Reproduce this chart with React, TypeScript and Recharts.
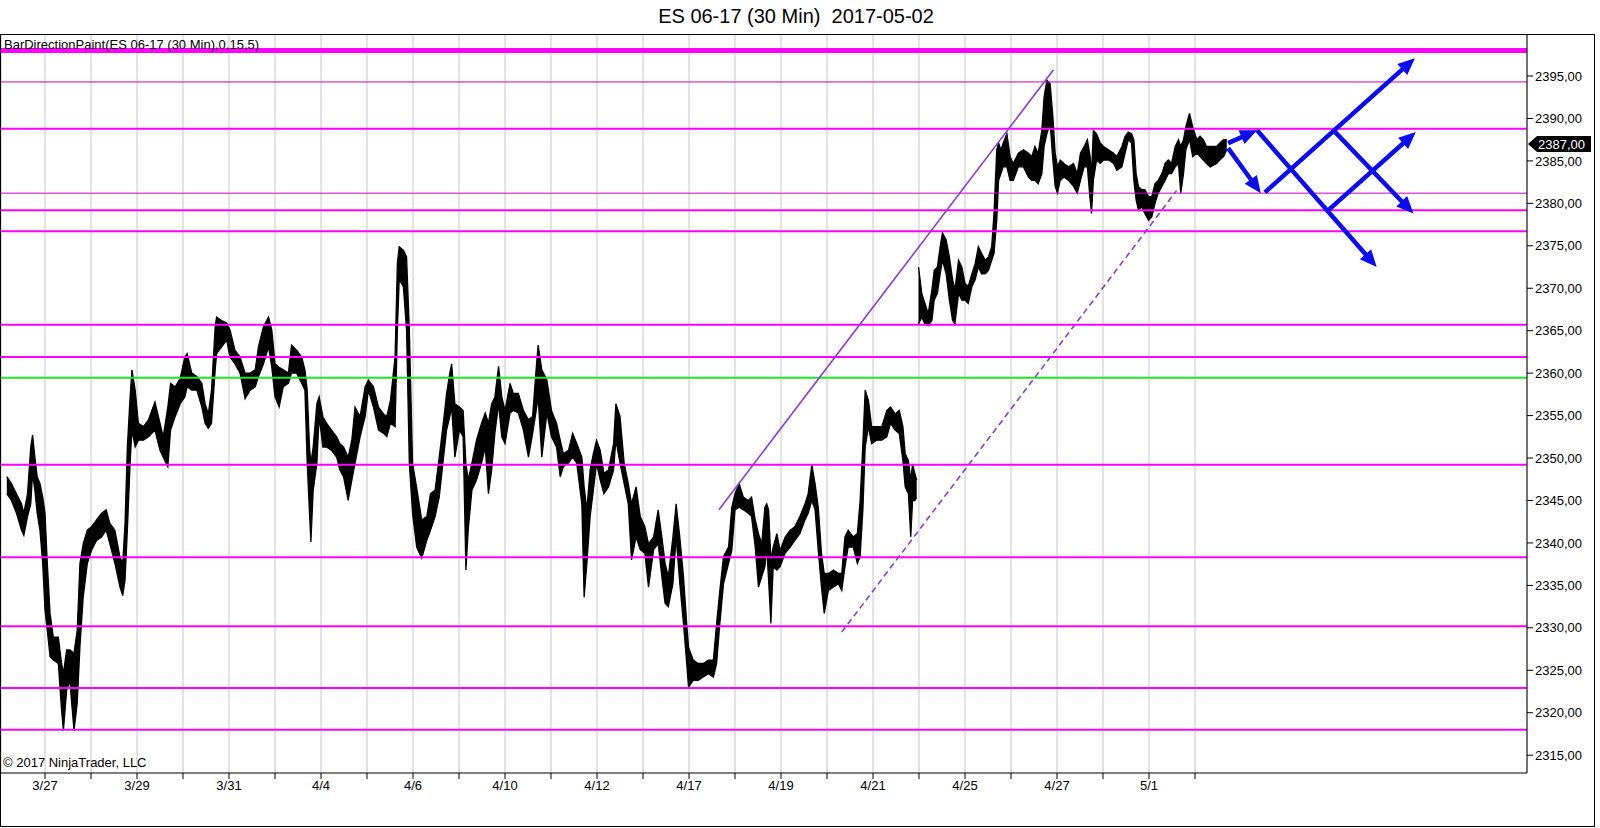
import React from 'react';
import {
  ComposedChart,
  Area,
  XAxis,
  YAxis,
  CartesianGrid,
  ReferenceLine,
} from 'recharts';

// x is measured in trading days, 0 = first bar of 3/27
const DAY_TICKS = Array.from({ length: 26 }, (_, i) => i);
const DAY_LABELS = [
  '3/27', '', '3/29', '', '3/31', '', '4/4', '', '4/6', '', '4/10', '', '4/12', '',
  '4/17', '', '4/19', '', '4/21', '', '4/25', '', '4/27', '', '5/1', '',
];
const PRICE_TICKS = [2315, 2320, 2325, 2330, 2335, 2340, 2345, 2350, 2355, 2360, 2365, 2370, 2375, 2380, 2385, 2390, 2395];

// 3/26 evening .. 4/21 close
const SESSION_A_T = [
  -0.83, -0.73, -0.62, -0.51, -0.46, -0.38, -0.31, -0.27, -0.22, -0.17, -0.11, -0.05,
  0.0, 0.05, 0.11, 0.18, 0.29, 0.36, 0.4, 0.47, 0.54, 0.63, 0.7, 0.76, 0.83, 0.92,
  1.01, 1.12, 1.23, 1.33, 1.41, 1.52, 1.63, 1.69, 1.74, 1.79, 1.85, 1.89, 1.96,
  2.03, 2.14, 2.25, 2.39, 2.5, 2.57, 2.67, 2.73, 2.83, 2.94,
  3.04, 3.09, 3.19, 3.3, 3.41, 3.48, 3.55, 3.62, 3.7, 3.73, 3.84, 3.95,
  4.02, 4.13, 4.24, 4.35, 4.46, 4.57, 4.64, 4.75, 4.86, 4.93,
  5.0, 5.09, 5.18, 5.29, 5.36, 5.47, 5.58, 5.65, 5.7, 5.75, 5.78, 5.83, 5.91, 5.96,
  6.04, 6.12, 6.23, 6.34, 6.41, 6.49, 6.59, 6.67, 6.74, 6.85, 6.96,
  7.03, 7.14, 7.25, 7.36, 7.43, 7.51, 7.61, 7.66, 7.7, 7.79, 7.86, 7.92, 7.99,
  8.08, 8.19, 8.3, 8.38, 8.48, 8.57, 8.65, 8.73, 8.8, 8.84, 8.91,
  9.01, 9.09, 9.15, 9.2, 9.28, 9.38, 9.49, 9.57, 9.64, 9.71, 9.78, 9.86, 9.93,
  10.0, 10.11, 10.18, 10.29, 10.4, 10.51, 10.6, 10.67, 10.72, 10.8, 10.91,
  11.01, 11.12, 11.2, 11.27, 11.38, 11.47, 11.56, 11.67, 11.72, 11.78, 11.85, 11.92, 11.99,
  12.07, 12.15, 12.25, 12.36, 12.41, 12.5, 12.59, 12.68, 12.75, 12.85, 12.94,
  13.04, 13.12, 13.23, 13.33, 13.41, 13.48, 13.55, 13.65, 13.72, 13.8, 13.88, 13.95, 13.99,
  14.09, 14.2, 14.31, 14.42, 14.53, 14.6, 14.67, 14.75, 14.86, 14.93,
  15.0, 15.09, 15.18, 15.29, 15.36, 15.44, 15.51, 15.58, 15.65, 15.69, 15.73, 15.78, 15.83, 15.91, 15.98,
  16.09, 16.2, 16.3, 16.41, 16.52, 16.59, 16.67, 16.74, 16.81, 16.88, 16.94,
  17.03, 17.14, 17.25, 17.32, 17.39, 17.46, 17.57, 17.66, 17.72, 17.78, 17.83, 17.9, 17.97,
  18.08, 18.19, 18.3, 18.38, 18.48, 18.57, 18.65, 18.7, 18.77, 18.82, 18.86, 18.91, 18.95,
];
const SESSION_A_HIGH = [
  2347.8, 2347.0, 2345.8, 2344.6, 2343.5, 2345.8, 2351.3, 2352.7, 2350.1, 2347.8, 2347.0, 2345.4,
  2343.5, 2337.6, 2331.7, 2328.9, 2328.9, 2325.8, 2324.6, 2327.4, 2327.4, 2327.0, 2329.7, 2337.6, 2339.9, 2341.5,
  2341.9, 2342.7, 2343.5, 2343.9, 2342.3, 2341.5, 2338.3, 2337.6, 2342.3, 2351.3, 2357.2, 2360.4, 2358.0,
  2354.1, 2353.7, 2354.5, 2356.6, 2354.1, 2352.5, 2356.0, 2358.8, 2358.4, 2359.4,
  2361.9, 2362.3, 2360.0, 2359.6, 2358.8, 2356.4, 2355.2, 2358.0, 2365.5, 2366.6, 2366.2, 2365.9,
  2365.1, 2362.7, 2361.9, 2360.0, 2360.0, 2360.4, 2363.1, 2365.5, 2366.6, 2365.1,
  2361.1, 2360.7, 2360.4, 2360.0, 2363.3, 2362.7, 2361.9, 2360.4, 2358.0, 2351.3, 2349.4, 2351.3, 2356.4, 2357.2,
  2354.9, 2354.1, 2353.3, 2352.5, 2351.7, 2351.3, 2350.1, 2352.1, 2356.0, 2354.9, 2358.4,
  2359.2, 2358.4, 2356.0, 2355.2, 2354.9, 2356.8, 2361.9, 2372.9, 2374.9, 2374.5, 2373.7, 2365.1, 2349.4,
  2346.5, 2342.7, 2343.1, 2345.8, 2346.2, 2350.1, 2353.7, 2357.6, 2360.0, 2361.1, 2356.4,
  2356.0, 2355.6, 2349.4, 2347.4, 2349.4, 2352.1, 2354.1, 2355.3, 2354.1, 2356.4, 2357.2, 2360.8, 2357.2,
  2355.6, 2358.8, 2357.6, 2357.6, 2355.6, 2354.5, 2354.9, 2360.0, 2363.3, 2360.4, 2359.2,
  2355.6, 2354.1, 2352.1, 2350.5, 2350.9, 2352.9, 2351.7, 2350.1, 2346.6, 2343.9, 2348.6, 2350.5, 2352.1,
  2350.9, 2348.2, 2348.6, 2351.7, 2356.4, 2354.9, 2349.4, 2347.0, 2344.6, 2346.6, 2343.1,
  2341.9, 2339.9, 2340.7, 2343.9, 2340.7, 2337.6, 2336.0, 2340.7, 2344.6, 2340.7, 2336.0, 2330.5, 2327.7,
  2326.2, 2325.8, 2325.8, 2326.2, 2326.2, 2330.5, 2334.4, 2338.4, 2339.5, 2344.2,
  2345.8, 2347.0, 2345.4, 2345.0, 2345.4, 2342.7, 2341.1, 2339.9, 2344.2, 2344.6, 2343.9, 2338.0, 2339.5, 2341.1, 2339.1,
  2340.7, 2341.5, 2341.9, 2343.1, 2344.6, 2345.8, 2349.2, 2347.0, 2344.2, 2338.8, 2336.4,
  2336.4, 2336.8, 2336.4, 2336.4, 2340.7, 2341.5, 2340.7, 2341.1, 2345.0, 2351.7, 2358.0, 2356.8, 2353.7,
  2353.7, 2353.7, 2355.6, 2356.0, 2355.2, 2355.6, 2353.7, 2350.5, 2349.7, 2347.4, 2349.3, 2348.2, 2347.4,
];
const SESSION_A_LOW = [
  2345.8, 2345.0, 2343.5, 2341.5, 2340.9, 2343.1, 2344.6, 2348.2, 2346.2, 2343.5, 2341.5, 2337.6,
  2332.1, 2329.7, 2326.6, 2326.2, 2325.8, 2320.3, 2317.9, 2322.6, 2323.8, 2317.9, 2321.1, 2327.8, 2333.6, 2337.6,
  2339.1, 2340.3, 2340.7, 2341.5, 2339.9, 2337.6, 2334.8, 2333.8, 2335.6, 2341.5, 2349.4, 2353.3, 2351.3,
  2352.1, 2352.1, 2352.5, 2353.3, 2350.9, 2350.1, 2349.0, 2353.3, 2354.9, 2356.4,
  2357.2, 2358.4, 2358.0, 2358.0, 2356.0, 2354.1, 2353.5, 2354.1, 2360.4, 2362.3, 2363.1, 2363.9,
  2361.9, 2361.1, 2360.0, 2357.0, 2358.0, 2358.4, 2359.6, 2361.1, 2363.1, 2360.7,
  2357.2, 2356.0, 2358.4, 2358.8, 2360.0, 2360.0, 2358.8, 2358.0, 2349.4, 2343.5, 2340.1, 2346.2, 2349.4, 2354.9,
  2351.3, 2351.3, 2350.9, 2350.1, 2348.6, 2347.8, 2345.0, 2347.4, 2349.4, 2352.5, 2354.9,
  2358.0, 2356.0, 2353.3, 2352.9, 2352.5, 2354.1, 2353.7, 2365.1, 2371.0, 2370.2, 2365.1, 2349.4, 2343.5,
  2339.5, 2338.2, 2340.3, 2341.5, 2343.1, 2345.4, 2349.4, 2353.3, 2354.9, 2356.0, 2350.1,
  2353.3, 2352.5, 2336.8, 2341.5, 2346.2, 2347.4, 2349.4, 2351.3, 2345.8, 2348.6, 2352.9, 2356.4, 2352.5,
  2351.7, 2355.3, 2355.6, 2355.3, 2353.3, 2350.1, 2352.9, 2355.3, 2357.2, 2350.1, 2355.3,
  2352.5, 2351.3, 2347.8, 2349.0, 2349.4, 2350.1, 2349.4, 2344.6, 2333.6, 2337.6, 2343.1, 2346.2, 2349.4,
  2347.4, 2345.8, 2346.6, 2348.6, 2352.1, 2349.4, 2347.0, 2344.6, 2338.0, 2340.7, 2339.2,
  2338.8, 2334.8, 2339.2, 2339.9, 2336.0, 2332.9, 2332.5, 2335.2, 2340.7, 2335.2, 2330.5, 2325.8, 2323.0,
  2323.8, 2323.8, 2324.2, 2324.6, 2324.2, 2325.8, 2330.5, 2335.2, 2337.6, 2339.1,
  2343.9, 2344.2, 2343.9, 2343.5, 2343.1, 2339.5, 2334.8, 2336.0, 2337.2, 2339.5, 2335.6, 2330.5, 2337.2, 2336.8, 2337.2,
  2338.8, 2339.5, 2340.3, 2341.1, 2342.7, 2343.5, 2345.0, 2343.9, 2339.1, 2334.8, 2331.7,
  2334.4, 2334.8, 2335.2, 2334.4, 2337.2, 2339.5, 2339.5, 2337.6, 2338.4, 2343.9, 2351.3, 2353.7, 2351.7,
  2352.1, 2352.1, 2352.5, 2354.1, 2353.3, 2352.9, 2349.7, 2346.6, 2345.8, 2340.7, 2345.0, 2345.0, 2345.4,
];

// 4/23 evening gap up .. 5/2
const SESSION_B_T = [
  18.99, 19.06, 19.13, 19.2, 19.28, 19.33, 19.4, 19.46, 19.51, 19.59, 19.66, 19.73, 19.78, 19.86, 19.93,
  20.0, 20.07, 20.15, 20.22, 20.29, 20.36, 20.44, 20.51, 20.58, 20.63, 20.69, 20.73, 20.78, 20.83, 20.91, 20.98,
  21.05, 21.16, 21.27, 21.38, 21.45, 21.52, 21.59, 21.67, 21.72, 21.78, 21.85, 21.91, 21.96,
  22.01, 22.07, 22.15, 22.25, 22.36, 22.44, 22.51, 22.59, 22.66, 22.72, 22.75, 22.79, 22.86, 22.94,
  23.01, 23.12, 23.23, 23.3, 23.41, 23.48, 23.55, 23.62, 23.67, 23.72, 23.77, 23.84, 23.91, 23.99,
  24.06, 24.13, 24.2, 24.28, 24.35, 24.42, 24.49, 24.57, 24.64, 24.69, 24.75, 24.8, 24.88, 24.95,
  25.04, 25.11, 25.18, 25.25, 25.33, 25.4, 25.47, 25.54, 25.62, 25.69,
];
const SESSION_B_HIGH = [
  2372.5, 2369.4, 2368.2, 2367.0, 2369.8, 2372.1, 2372.5, 2374.9, 2376.5, 2375.7, 2373.7, 2371.0, 2369.8, 2373.3, 2372.5,
  2370.6, 2370.2, 2371.7, 2372.9, 2374.9, 2374.1, 2373.3, 2373.7, 2374.9, 2378.8, 2386.3, 2387.1, 2386.3, 2387.1, 2388.2, 2385.5,
  2384.7, 2385.9, 2386.3, 2385.9, 2385.5, 2386.7, 2385.9, 2388.6, 2392.6, 2394.5, 2394.1, 2390.2, 2385.9,
  2384.3, 2385.1, 2384.7, 2384.3, 2384.7, 2383.5, 2385.9, 2386.7, 2387.5, 2385.5, 2383.5, 2388.6, 2388.2, 2387.1,
  2386.7, 2386.3, 2385.9, 2385.5, 2386.7, 2387.9, 2388.4, 2388.2, 2387.5, 2383.5, 2382.0, 2381.6, 2381.6, 2380.8,
  2380.8, 2382.3, 2382.7, 2383.5, 2384.7, 2385.1, 2384.7, 2386.7, 2387.5, 2386.7, 2387.5, 2389.0, 2390.6, 2389.0,
  2387.5, 2387.9, 2387.5, 2386.7, 2386.7, 2386.7, 2386.7, 2387.1, 2387.5, 2387.5,
];
const SESSION_B_LOW = [
  2365.8, 2366.6, 2365.8, 2365.6, 2366.2, 2368.6, 2369.4, 2371.7, 2373.3, 2371.7, 2368.6, 2366.2, 2365.8, 2369.4, 2368.6,
  2368.6, 2368.2, 2370.2, 2371.0, 2372.5, 2371.7, 2371.7, 2372.1, 2373.3, 2374.1, 2378.0, 2382.7, 2383.5, 2384.3, 2384.3, 2382.7,
  2382.7, 2384.3, 2384.3, 2383.1, 2382.7, 2382.7, 2382.3, 2383.5, 2386.7, 2388.2, 2389.4, 2385.1, 2382.0,
  2381.2, 2382.7, 2383.1, 2382.7, 2382.0, 2381.2, 2382.7, 2384.3, 2384.3, 2380.4, 2378.8, 2382.7, 2385.1, 2384.7,
  2385.1, 2385.1, 2384.7, 2383.9, 2384.3, 2385.9, 2387.5, 2387.1, 2382.7, 2380.4, 2379.2, 2379.6, 2378.8, 2378.0,
  2378.4, 2380.0, 2381.2, 2382.0, 2382.7, 2383.5, 2383.5, 2384.3, 2384.7, 2381.2, 2383.5, 2386.3, 2387.5, 2385.5,
  2385.9, 2385.5, 2385.1, 2384.7, 2384.3, 2384.5, 2384.7, 2385.1, 2385.5, 2386.3,
];

const LAST_PRICE = 2387;

// horizontal levels
const HEAVY_LEVELS = [2398];
const THIN_LEVELS = [2394.3, 2381.2];
const MAIN_LEVELS = [2388.8, 2379.2, 2376.7, 2365.7, 2361.9, 2349.2, 2338.3, 2330.2, 2322.9, 2318.0];
const GREEN_LEVELS = [2359.45];

// trend lines [t, price]
const TREND_SOLID = [[14.65, 2343.9], [21.92, 2395.7]];
const TREND_DASHED = [[17.32, 2329.5], [24.6, 2381.5]];

// projection arrows [t, price]
const ARROW_FROM = [
  [25.72, 2387.1], [25.72, 2386.5], [26.35, 2388.6], [26.52, 2381.3], [28.01, 2388.6], [27.9, 2379.2],
];
const ARROW_TO = [
  [26.35, 2388.6], [26.43, 2381.2], [28.95, 2372.5], [29.78, 2397.1], [29.75, 2378.8], [29.8, 2388.4],
];

const X_MIN = -0.9565;
const X_MAX = 32.217;
const Y_MIN = 2312.9;
const Y_MAX = 2399.83;

const FONT = '"Liberation Sans", Arial, sans-serif';

const sessionA = SESSION_A_T.map((t, i) => ({ t, range: [SESSION_A_LOW[i], SESSION_A_HIGH[i]] }));
const sessionB = SESSION_B_T.map((t, i) => ({ t, range: [SESSION_B_LOW[i], SESSION_B_HIGH[i]] }));

const ArrowShape = (props: any) => {
  const { x1, y1, x2, y2 } = props;
  const dx = x2 - x1;
  const dy = y2 - y1;
  const len = Math.hypot(dx, dy) || 1;
  const ux = dx / len;
  const uy = dy / len;
  const hl = 17;
  const hw = 7.5;
  const bx = x2 - ux * hl;
  const by = y2 - uy * hl;
  return (
    <g>
      <line x1={x1} y1={y1} x2={bx + ux * 2} y2={by + uy * 2} stroke="#0a0af5" strokeWidth={4.5} />
      <polygon
        points={`${x2},${y2} ${bx - uy * hw},${by + ux * hw} ${bx + uy * hw},${by - ux * hw}`}
        fill="#0a0af5"
      />
    </g>
  );
};

// black last-price tag sitting on the price axis
const PriceMarker = (props: any) => {
  const { x1, x2, y1 } = props;
  const x = Math.max(x1, x2) + 1;
  const y = y1;
  return (
    <g>
      <polygon
        points={`${x},${y} ${x + 9},${y - 8} ${x + 63},${y - 8} ${x + 63},${y + 8} ${x + 9},${y + 8}`}
        fill="#000"
      />
      <text x={x + 10} y={y} dy="0.36em" fill="#fff" fontSize={13} fontFamily={FONT}>
        {LAST_PRICE.toFixed(2).replace('.', ',')}
      </text>
    </g>
  );
};

export default function App() {
  return (
    <div
      style={{
        position: 'absolute',
        left: 0,
        top: 0,
        width: 1600,
        height: 828,
        background: '#fff',
        fontFamily: FONT,
        overflow: 'hidden',
      }}
    >
      <div
        style={{
          position: 'absolute',
          left: 0,
          top: 4,
          width: 1592,
          textAlign: 'center',
          fontSize: 20,
          lineHeight: '24px',
          whiteSpace: 'pre',
          color: '#000',
        }}
      >
        {'ES 06-17 (30 Min)  2017-05-02'}
      </div>
      <ComposedChart
        width={1600}
        height={828}
        margin={{ top: 35, right: 0, bottom: 15, left: 1 }}
        style={{ position: 'absolute', left: 0, top: 0 }}
      >
        <CartesianGrid horizontal={false} stroke="#c6c6c6" strokeWidth={1} />
        <XAxis
          type="number"
          dataKey="t"
          domain={[X_MIN, X_MAX]}
          allowDataOverflow
          ticks={DAY_TICKS}
          interval={0}
          tickFormatter={(v: number) => DAY_LABELS[v] ?? ''}
          height={40}
          tickSize={6}
          tickMargin={2}
          stroke="#000"
          tick={{ fill: '#000', fontSize: 13, fontFamily: FONT }}
        />
        <YAxis
          orientation="right"
          type="number"
          domain={[Y_MIN, Y_MAX]}
          allowDataOverflow
          ticks={PRICE_TICKS}
          interval={0}
          width={73}
          tickSize={6}
          tickMargin={2}
          stroke="#000"
          tickFormatter={(v: number) => v.toFixed(2).replace('.', ',')}
          tick={{ fill: '#000', fontSize: 13, fontFamily: FONT }}
        />
        <Area
          data={sessionA}
          dataKey="range"
          type="linear"
          stroke="#000"
          strokeWidth={1.3}
          fill="#000"
          fillOpacity={1}
          isAnimationActive={false}
          dot={false}
          activeDot={false}
        />
        <Area
          data={sessionB}
          dataKey="range"
          type="linear"
          stroke="#000"
          strokeWidth={1.3}
          fill="#000"
          fillOpacity={1}
          isAnimationActive={false}
          dot={false}
          activeDot={false}
        />
        {HEAVY_LEVELS.map((p) => (
          <ReferenceLine key={`h${p}`} y={p} stroke="#ff00ff" strokeWidth={5} />
        ))}
        {THIN_LEVELS.map((p) => (
          <ReferenceLine key={`t${p}`} y={p} stroke="#c800c8" strokeWidth={1} />
        ))}
        {MAIN_LEVELS.map((p) => (
          <ReferenceLine key={`m${p}`} y={p} stroke="#ff00ff" strokeWidth={2} />
        ))}
        {GREEN_LEVELS.map((p) => (
          <ReferenceLine key={`g${p}`} y={p} stroke="#1ee81e" strokeWidth={2} />
        ))}
        <ReferenceLine
          segment={[
            { x: TREND_SOLID[0][0], y: TREND_SOLID[0][1] },
            { x: TREND_SOLID[1][0], y: TREND_SOLID[1][1] },
          ]}
          stroke="#8a3be0"
          strokeWidth={1.6}
        />
        <ReferenceLine
          segment={[
            { x: TREND_DASHED[0][0], y: TREND_DASHED[0][1] },
            { x: TREND_DASHED[1][0], y: TREND_DASHED[1][1] },
          ]}
          stroke="#8a3be0"
          strokeWidth={1.6}
          strokeDasharray="6 4"
        />
        {ARROW_FROM.map((from, i) => (
          <ReferenceLine
            key={`a${i}`}
            segment={[
              { x: from[0], y: from[1] },
              { x: ARROW_TO[i][0], y: ARROW_TO[i][1] },
            ]}
            shape={ArrowShape}
          />
        ))}
        <ReferenceLine y={LAST_PRICE} stroke="none" shape={PriceMarker} />
      </ComposedChart>
      <div
        style={{
          position: 'absolute',
          left: 4,
          top: 37,
          fontSize: 13,
          color: '#000',
          whiteSpace: 'pre',
          lineHeight: '16px',
        }}
      >
        BarDirectionPaint(ES 06-17 (30 Min),0,15,5)
      </div>
      <div
        style={{
          position: 'absolute',
          left: 3,
          top: 755,
          fontSize: 13,
          color: '#000',
          whiteSpace: 'pre',
          lineHeight: '16px',
        }}
      >
        © 2017 NinjaTrader, LLC
      </div>
      <div
        style={{
          position: 'absolute',
          left: 0,
          top: 34,
          width: 1595,
          height: 793,
          border: '1px solid #000',
          boxSizing: 'border-box',
          pointerEvents: 'none',
        }}
      />
    </div>
  );
}
